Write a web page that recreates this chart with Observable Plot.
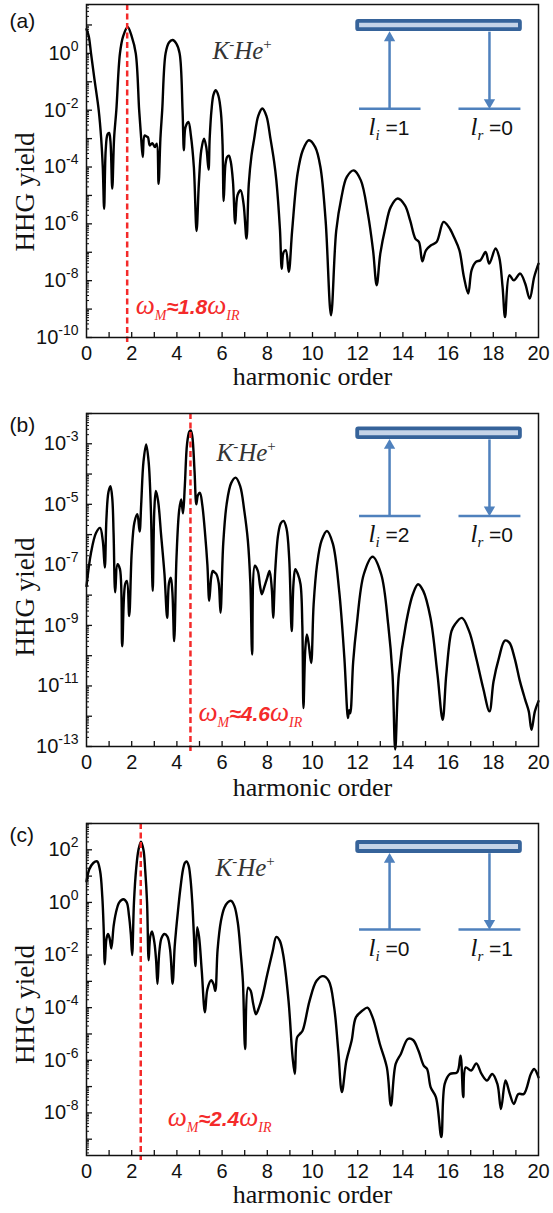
<!DOCTYPE html>
<html><head><meta charset="utf-8">
<script src="https://cdn.jsdelivr.net/npm/d3@7"></script>
<script src="https://cdn.jsdelivr.net/npm/@observablehq/plot@0.6"></script>
<style>
body{margin:0;background:#fff;}
#chart{width:553px;}
#chart svg{display:block;}
</style></head><body><div id="chart"></div>
<script>
// ---------- data (harmonic order, log10 of HHG yield) ----------
const harmonicA = [0,0.1,0.2,0.35,0.54,0.65,0.72,0.78,
0.85,0.93,1.0,1.06,1.14,
1.22,1.32,1.48,1.62,1.82,2.0,2.18,2.33,2.42,2.49,
2.57,2.65,2.72,2.8,2.91,3.03,3.11,3.19,
3.27,3.35,3.5,3.65,3.81,3.97,4.12,4.25,4.31,
4.38,4.51,4.62,4.75,4.87,
4.97,5.08,5.2,5.3,5.4,
5.45,5.53,5.62,5.72,5.84,5.95,6.02,6.07,
6.15,6.22,6.3,6.38,6.48,6.58,
6.68,6.82,6.95,7.08,
7.18,7.3,7.42,7.6,7.78,7.96,8.14,8.3,8.4,8.56,8.64,
8.72,8.82,8.95,
9.1,9.34,9.57,9.84,10.12,10.35,10.58,10.82,
11.05,11.28,11.52,11.83,12.14,12.45,12.68,12.84,
13.0,13.23,13.46,13.77,14.09,14.32,14.55,14.71,14.86,
15.02,15.25,15.49,15.8,16.03,16.26,16.5,16.7,16.89,
17.04,17.23,17.43,17.66,17.82,18.1,18.26,18.41,18.52,
18.71,18.91,19.19,19.41,19.61,19.81,20];
const logYieldA = [0.85,0.6,0.0,-0.9,-2.0,-3.0,-4.0,-5.47,
-3.4,-2.85,-2.8,-3.1,-4.76,
-3.0,-2.0,0.0,0.6,0.93,0.6,0.0,-2.0,-3.0,-3.65,
-2.89,-2.92,-2.95,-3.24,-3.16,-3.3,-3.18,-4.59,
-3.0,-2.0,0.0,0.38,0.47,0.35,0.0,-2.0,-3.41,
-2.6,-2.41,-2.9,-4.0,-6.25,
-4.6,-3.4,-3.0,-3.3,-4.09,
-3.0,-2.0,-1.45,-1.3,-1.5,-2.1,-3.2,-5.2,
-3.9,-3.65,-3.6,-3.8,-4.5,-5.99,
-5.0,-4.82,-5.3,-6.52,
-4.6,-3.6,-3.0,-2.2,-1.94,-2.2,-3.0,-3.8,-4.47,-6.2,-7.58,
-7.0,-6.93,-7.69,
-6.23,-4.23,-3.41,-3.06,-3.3,-4.0,-5.88,-9.22,
-6.24,-5.07,-4.35,-4.12,-4.47,-5.64,-6.93,-8.16,
-7.05,-6.11,-5.41,-5.11,-5.35,-5.88,-6.52,-6.64,-7.32,
-6.93,-6.75,-6.64,-5.93,-6.11,-6.46,-6.93,-7.87,-8.45,
-7.63,-7.34,-7.28,-6.99,-7.4,-6.87,-7.17,-8.22,-9.28,
-7.81,-7.99,-7.75,-8.1,-8.63,-7.87,-7.4];

const harmonicB = [0,0.2,0.42,0.6,0.72,0.81,
0.88,0.97,1.06,1.14,1.2,1.27,
1.37,1.48,1.58,1.71,1.79,1.89,
2.0,2.12,2.25,2.35,2.42,2.52,2.64,2.75,2.85,2.93,
3.0,3.07,3.17,3.3,3.45,3.57,3.65,3.73,3.8,3.88,
3.98,4.1,4.19,4.27,4.35,4.45,4.55,4.61,4.68,4.78,4.86,4.93,5.02,5.12,5.25,5.35,5.43,
5.52,5.59,5.67,5.75,5.85,5.93,
6.05,6.2,6.4,6.6,6.8,6.98,7.14,7.25,7.33,
7.45,7.58,7.68,7.76,7.88,8.0,8.1,8.2,8.26,
8.35,8.48,8.6,8.72,8.85,8.97,9.08,
9.16,9.24,9.35,9.47,9.55,9.6,9.68,9.75,9.83,9.94,
10.05,10.2,10.4,10.64,10.9,11.18,11.41,11.57,11.62,11.67,
11.8,11.96,12.27,12.66,13.04,13.35,13.54,13.66,
13.82,14.13,14.44,14.67,14.9,15.22,15.53,15.76,
15.92,16.15,16.3,16.61,16.93,17.24,17.55,17.83,
18.01,18.25,18.51,18.71,18.94,19.18,19.41,19.57,19.69,19.84,20];
const logYieldB = [-7.7,-6.6,-5.95,-5.78,-6.2,-7.09,
-5.5,-4.6,-4.4,-4.8,-6.0,-7.91,
-6.98,-7.14,-9.69,-7.64,-7.53,-8.69,
-6.6,-5.6,-5.33,-5.9,-5.0,-3.6,-3.02,-3.6,-5.2,-7.86,
-5.2,-4.56,-4.9,-6.0,-7.3,-8.75,-7.6,-7.42,-7.9,-9.52,
-6.8,-5.2,-4.84,-5.3,-4.4,-3.0,-2.6,-2.56,-2.75,-3.9,-5.0,-4.7,-4.62,-5.0,-6.0,-7.0,-8.19,
-7.4,-7.2,-7.25,-7.31,-7.6,-8.58,
-6.3,-5.0,-4.3,-4.12,-4.4,-5.2,-6.2,-7.6,-9.96,
-7.03,-7.2,-7.7,-7.97,-7.7,-7.42,-7.2,-7.8,-8.75,
-7.2,-6.0,-5.62,-5.55,-5.8,-6.8,-9.19,
-7.6,-7.14,-7.3,-7.64,-9.0,-11.73,-9.8,-9.3,-9.6,-10.24,
-8.3,-7.0,-6.2,-5.88,-6.3,-7.86,-10.07,-12.06,-11.8,-11.9,
-10.2,-8.97,-7.31,-6.73,-7.31,-8.97,-10.62,-13.1,
-10.62,-8.97,-7.97,-7.64,-7.86,-8.75,-10.62,-12.12,
-10.62,-9.19,-8.97,-8.75,-9.19,-10.07,-11.07,-11.84,
-10.85,-10.07,-9.5,-9.57,-10.07,-10.85,-11.45,-11.84,-12.45,-11.84,-11.5];

const harmonicC = [0,0.12,0.3,0.47,0.6,0.7,0.76,0.81,
0.88,0.95,1.02,1.1,
1.2,1.3,1.45,1.63,1.78,1.88,1.96,2.02,
2.1,2.2,2.3,2.41,2.52,2.6,2.68,2.75,
2.82,2.9,3.0,3.08,3.14,
3.22,3.32,3.45,3.58,3.7,3.81,
3.9,3.97,4.05,4.15,4.27,4.35,4.43,4.52,4.6,4.68,4.75,4.82,
4.9,4.98,5.1,5.24,
5.35,5.52,5.62,5.7,
5.8,5.95,6.1,6.25,6.4,6.55,6.7,6.82,6.92,7.02,
7.15,7.26,7.38,7.5,7.63,7.77,8.0,8.24,8.4,8.55,8.7,8.94,9.12,9.22,
9.32,9.44,9.56,9.87,10.18,10.46,10.72,10.96,11.14,11.3,
11.5,11.73,11.92,12.2,12.43,12.66,12.98,13.29,13.47,
13.68,13.91,14.22,14.45,14.69,14.92,15.07,15.23,15.46,15.7,
15.85,16.08,16.4,16.55,16.67,16.78,17.02,17.25,17.48,17.72,17.95,18.18,18.34,
18.54,18.73,18.91,19.11,19.35,19.66,19.81,20];
const logYieldC = [0.8,1.25,1.5,1.56,1.2,0.2,-1.0,-2.35,
-1.4,-1.2,-1.35,-1.75,
-0.9,-0.4,0.0,0.12,0.0,-0.5,-1.2,-2.0,
0.0,1.3,2.0,2.31,2.0,1.2,0.0,-2.2,
-1.3,-1.1,-1.5,-2.2,-3.1,
-1.9,-1.35,-1.2,-1.3,-1.8,-3.09,
-1.7,-1.0,-0.3,0.5,1.25,1.5,1.56,1.4,0.9,0.0,-1.2,-2.42,
-0.94,-1.3,-2.6,-4.18,
-3.3,-2.96,-3.1,-3.36,
-1.8,-0.7,-0.2,0.0,0.06,-0.15,-0.8,-1.9,-3.0,-5.57,
-3.24,-3.35,-3.87,-4.25,-4.0,-3.62,-2.73,-1.85,-1.31,-1.45,-1.97,-3.74,-5.89,-6.52,
-5.13,-5.0,-4.88,-3.74,-2.98,-2.8,-2.98,-4.0,-5.64,-7.21,
-6.02,-5.26,-4.37,-4.12,-4.0,-4.37,-5.38,-6.27,-7.72,
-6.14,-5.76,-5.19,-5.23,-5.64,-6.2,-6.33,-7.03,-7.4,-8.92,
-6.9,-6.52,-6.46,-5.83,-7.4,-6.27,-6.39,-6.12,-6.52,-6.77,-6.52,-6.9,-7.85,
-6.77,-7.28,-7.66,-7.28,-7.28,-6.52,-6.33,-6.65];

// ---------- axes / labels ----------
const xTickLabels = [0,2,4,6,8,10,12,14,16,18,20];
const xTickMarks = [1,2,3,4,5,6,7,8,9,10,11,12,13,14,15,16,17,18,19];
const yLabelExpA = [0,-2,-4,-6,-8,-10];
const yLabelExpB = [-3,-5,-7,-9,-11,-13];
const yLabelExpC = [2,0,-2,-4,-6,-8];
const yDomainExpA = [-10, 1.72];
const yDomainExpB = [-13, -2];
const yDomainExpC = [-9.62, 3];
const omegaM = [1.8, 4.6, 2.4];
const panelLetters = ["(a)", "(b)", "(c)"];
const lInitial = [1, 2, 0];
const lReturn = [0, 0, 1];
const moleculeLabel = "K-He+";

// inset level diagram: x in harmonic units, y in log10 units per panel
const insetX = {rect: [12.0, 19.2], up: 13.41, down: 17.83, left: [12.06, 14.78], right: [16.46, 19.2], labI: 12.48, labR: 16.99};
const insetYA = {rectTop: 1.124, rectBot: 0.834, rectEdge: 0.763, headUp: 0.545, base: -1.945, headDown: -1.727, label: -2.86};
const insetYB = {rectTop: -2.507, rectBot: -2.795, rectEdge: -2.855, headUp: -3.059, base: -5.386, headDown: -5.18, label: -6.244};
const insetYC = {rectTop: 2.278, rectBot: 1.935, rectEdge: 1.871, headUp: 1.635, base: -1.03, headDown: -0.795, label: -2.02};

// ---------- layout ----------
const layout = [
  {height: 400, top: 4, bottom: 63, ylabDy: 21, xlabDy: 47, letterDy: 23.5, molDx: 126, molDy: 54, omDx: 8.5, omDy: -24},
  {height: 405, top: 13, bottom: 59, ylabDy: 17, xlabDy: 49, letterDy: 18, molDx: 130, molDy: 47, omDx: 8, omDy: -26},
  {height: 408, top: 18, bottom: 58, ylabDy: 15, xlabDy: 47, letterDy: 18.3, molDx: 129, molDy: 52, omDx: 27, omDy: -30}
];

const SERIF = "'Liberation Serif','Times New Roman',serif";
const SANS = "'Liberation Sans',Arial,sans-serif";
const RED = "#f42a2a";
const BLUE = "#4f81bd";
const DARKBLUE = "#36639a";

const triangleDown = {
  draw(ctx, size) {
    const y = Math.sqrt(size / (Math.sqrt(3) * 3));
    ctx.moveTo(0, 2 * y);
    ctx.lineTo(-Math.sqrt(3) * y, -y);
    ctx.lineTo(Math.sqrt(3) * y, -y);
    ctx.closePath();
  }
};

function makePanel(i, harm, logs, domExp, labelExp, inY) {
  const L = layout[i];
  const data = harm.map((h, k) => ({h, v: 10 ** logs[k]}));
  const yDom = [10 ** domExp[0], 10 ** domExp[1]];
  const majors = d3.range(Math.ceil(domExp[0]), Math.floor(domExp[1]) + 1).map(e => 10 ** e);
  const minors = [];
  for (let e = Math.floor(domExp[0]); e <= Math.ceil(domExp[1]); e++)
    for (let k = 2; k <= 9; k++) { const v = k * 10 ** e; if (v > yDom[0] && v < yDom[1]) minors.push(v); }
  const yLabels = labelExp.map(e => 10 ** e);
  const P = q => 10 ** q;

  const svg = Plot.plot({
    width: 553, height: L.height,
    marginTop: L.top, marginBottom: L.bottom, marginLeft: 86, marginRight: 15,
    x: {domain: [0, 20]},
    y: {type: "log", domain: yDom},
    style: {fontFamily: SANS, fontSize: "20px", color: "#111", background: "#fff"},
    marks: [
      Plot.ruleY(minors, {y: d => d, x1: 0, x2: 0, insetRight: -3, stroke: "#111", strokeWidth: 1}),
      Plot.ruleY(majors, {y: d => d, x1: 0, x2: 0, insetRight: -6, stroke: "#111", strokeWidth: 1.3}),
      Plot.ruleX(xTickMarks, {x: d => d, y1: yDom[0], y2: yDom[0], insetTop: 0, insetBottom: 5, stroke: "#111", strokeWidth: 1.3}),
      Plot.line(data, {x: "h", y: "v", stroke: "#000", strokeWidth: 2.4, curve: "catmull-rom"}),
      Plot.ruleX([omegaM[i]], {x: d => d, stroke: RED, strokeWidth: 2.5, strokeDasharray: "6,3.5", insetBottom: -5}),
      Plot.frame({stroke: "#111", strokeWidth: 1.5}),
      // inset level diagram
      Plot.link([0], {x1: insetX.left[0], x2: insetX.left[1], y1: P(inY.base), y2: P(inY.base), stroke: BLUE, strokeWidth: 2.5}),
      Plot.link([0], {x1: insetX.right[0], x2: insetX.right[1], y1: P(inY.base), y2: P(inY.base), stroke: BLUE, strokeWidth: 2.5}),
      Plot.link([0], {x1: insetX.up, x2: insetX.up, y1: P(inY.base), y2: P(inY.headUp), stroke: BLUE, strokeWidth: 2.5}),
      Plot.link([0], {x1: insetX.down, x2: insetX.down, y1: P(inY.rectEdge), y2: P(inY.headDown), stroke: BLUE, strokeWidth: 2.5}),
      Plot.dot([0], {x: insetX.up, y: P(inY.headUp), symbol: "triangle", r: 4.2, fill: BLUE, stroke: "none"}),
      Plot.dot([0], {x: insetX.down, y: P(inY.headDown), symbol: triangleDown, r: 4.2, fill: BLUE, stroke: "none"}),
      Plot.rect([0], {x1: insetX.rect[0], x2: insetX.rect[1], y1: P(inY.rectBot), y2: P(inY.rectTop), fill: "#c6d4e8", stroke: DARKBLUE, strokeWidth: 3.8, rx: 1}),
      Plot.text([`l_i =${lInitial[i]}`], {x: insetX.labI, y: P(inY.label), text: d => d, textAnchor: "start", lineAnchor: "bottom", fill: "#111"}),
      Plot.text([`l_r =${lReturn[i]}`], {x: insetX.labR, y: P(inY.label), text: d => d, textAnchor: "start", lineAnchor: "bottom", fill: "#111"}),
      // texts
      Plot.text([moleculeLabel], {frameAnchor: "top-left", dx: L.molDx, dy: L.molDy, text: d => d, textAnchor: "start", lineAnchor: "bottom", fill: "#333"}),
      Plot.text([omegaM[i]], {x: d => d, frameAnchor: "bottom", dx: L.omDx, dy: L.omDy, text: d => `ωM≈${d}ωIR`, textAnchor: "start", lineAnchor: "bottom", fill: RED}),
      Plot.text([panelLetters[i]], {frameAnchor: "top-left", dx: -77, dy: L.letterDy, text: d => d, textAnchor: "start", lineAnchor: "bottom", fontSize: 21, fill: "#111"}),
      Plot.text(["HHG yield"], {frameAnchor: "left", dx: -61.5, dy: L.ylabDy, text: d => d, rotate: -90, textAnchor: "middle", lineAnchor: "middle", fontFamily: SERIF, fontSize: 27, fill: "#111"}),
      Plot.text(["harmonic order"], {frameAnchor: "bottom", dy: L.xlabDy, text: d => d, textAnchor: "middle", lineAnchor: "bottom", fontFamily: SERIF, fontSize: 26, fill: "#111"}),
      Plot.axisX(xTickLabels, {tickSize: 0, tickPadding: 8, label: null, fontSize: 20}),
      Plot.axisY(yLabels, {tickSize: 0, tickPadding: 8, label: null, tickFormat: d => "10^" + Math.round(Math.log10(d)), fontSize: 20})
    ]
  });
  enrich(svg);
  return svg;
}

function setRich(el, parts) {
  while (el.firstChild) el.removeChild(el.firstChild);
  for (const p of parts) {
    const ts = document.createElementNS("http://www.w3.org/2000/svg", "tspan");
    ts.textContent = p.t;
    if (p.ff) ts.setAttribute("font-family", p.ff);
    if (p.fs) ts.setAttribute("font-size", p.fs);
    if (p.st) ts.setAttribute("font-style", p.st);
    if (p.fw) ts.setAttribute("font-weight", p.fw);
    if (p.dy) ts.setAttribute("dy", p.dy);
    el.appendChild(ts);
  }
}

function enrich(svg) {
  svg.querySelectorAll("text").forEach(el => {
    const s = el.textContent;
    let m;
    if ((m = s.match(/^10\^(-?\d+)$/))) {
      setRich(el, [{t: "10"}, {t: m[1], fs: "14px", dy: "-9"}]);
    } else if (s === moleculeLabel) {
      setRich(el, [
        {t: "K", ff: SERIF, st: "italic", fs: "25px"},
        {t: "-", ff: SERIF, fs: "15px", dy: "-10"},
        {t: "He", ff: SERIF, st: "italic", fs: "25px", dy: "10"},
        {t: "+", ff: SERIF, fs: "15px", dy: "-10"}
      ]);
    } else if ((m = s.match(/^ωM≈([\d.]+)ωIR$/))) {
      setRich(el, [
        {t: "ω", ff: SERIF, st: "italic", fs: "27px"},
        {t: "M", ff: SERIF, st: "italic", fs: "14px", dy: "6"},
        {t: "≈" + m[1], ff: SANS, st: "italic", fw: "bold", fs: "21px", dy: "-6"},
        {t: "ω", ff: SERIF, st: "italic", fs: "27px"},
        {t: "IR", ff: SERIF, st: "italic", fs: "14px", dy: "6"}
      ]);
    } else if ((m = s.match(/^l_([ir]) =(\d)$/))) {
      setRich(el, [
        {t: "l", ff: SERIF, st: "italic", fs: "25px"},
        {t: m[1], ff: SERIF, st: "italic", fs: "15px", dy: "5"},
        {t: " =" + m[2], ff: SANS, fs: "21px", dy: "-5"}
      ]);
    }
  });
}

const chart = document.getElementById("chart");
chart.appendChild(makePanel(0, harmonicA, logYieldA, yDomainExpA, yLabelExpA, insetYA));
chart.appendChild(makePanel(1, harmonicB, logYieldB, yDomainExpB, yLabelExpB, insetYB));
chart.appendChild(makePanel(2, harmonicC, logYieldC, yDomainExpC, yLabelExpC, insetYC));
</script>
</body></html>
